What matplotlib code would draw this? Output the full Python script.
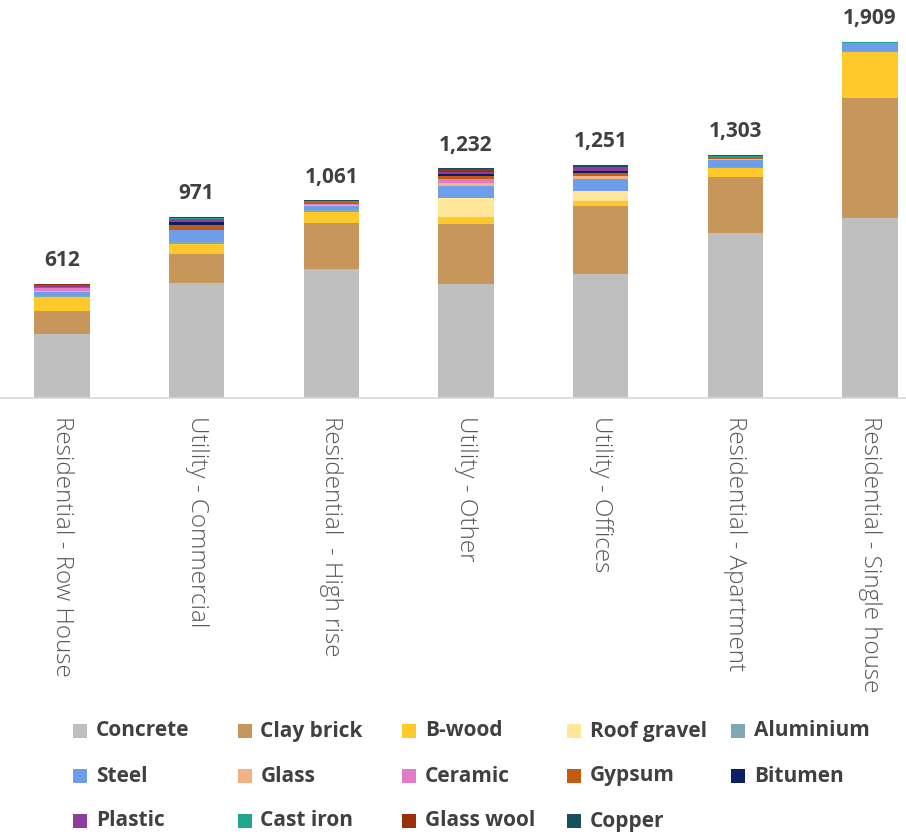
import matplotlib
matplotlib.use("Agg")
import matplotlib.pyplot as plt
from matplotlib.patches import Rectangle

plt.rcParams['font.family'] = ['Open Sans', 'DejaVu Sans']

categories = ["Residential - Row House", "Utility - Commercial", "Residential  - High rise",
              "Utility - Other", "Utility - Offices", "Residential - Apartment",
              "Residential - Single house"]

concrete   = [343, 619, 691, 612, 664, 883, 963]
clay_brick = [124, 155, 247, 322, 366, 304, 643]
b_wood     = [75, 54, 59, 36, 27, 45, 250]
roof_grav  = [0, 0, 0, 104, 54, 0, 0]
aluminium  = [5, 11, 8, 0, 0, 8, 6]
steel      = [20, 63, 25, 63, 63, 36, 41]
glass      = [5, 0, 5, 18, 18, 4, 0]
ceramic    = [15, 0, 5, 21, 0, 0, 0]
gypsum     = [8, 27, 8, 14, 16, 12, 0]
bitumen    = [2, 12, 0, 9, 11, 0, 0]
plastic    = [6, 18, 0, 14, 21, 0, 0]
cast_iron  = [2, 4, 6, 0, 0, 5, 6]
glass_wool = [4, 4, 3, 12, 0, 4, 0]
copper     = [3, 4, 4, 7, 11, 2, 0]

materials = ["Concrete", "Clay brick", "B-wood", "Roof gravel", "Aluminium",
             "Steel", "Glass", "Ceramic", "Gypsum", "Bitumen",
             "Plastic", "Cast iron", "Glass wool", "Copper"]
series = [concrete, clay_brick, b_wood, roof_grav, aluminium, steel, glass,
          ceramic, gypsum, bitumen, plastic, cast_iron, glass_wool, copper]
colors = ["#BFBFBF", "#C6965A", "#FFC92B", "#FFE699", "#7FA8B4",
          "#6D9EEB", "#F4B183", "#E07CC8", "#C55A11", "#0A1F66",
          "#8E3D9E", "#22A58C", "#9C2E0B", "#16505E"]

fig = plt.figure(figsize=(9.06, 8.34), dpi=100)
W, H = 906, 834
ax = fig.add_axes([0, 1 - 398 / H, 1, (398 - 20) / H])

x = list(range(len(categories)))
bottom = [0] * len(categories)
for name, vals, col in zip(materials, series, colors):
    ax.bar(x, vals, 0.41, bottom=bottom, color=col, label=name, linewidth=0)
    bottom = [b + v for b, v in zip(bottom, vals)]

for xi, tot in zip(x, bottom):
    ax.annotate(f"{tot:,}", (xi, tot), xytext=(0, 9), textcoords="offset points",
                ha="center", va="bottom", fontsize=15, fontweight="bold", color="#404040")

ax.set_xlim(-62 / 134.7, 6 + 36 / 134.7)
ax.set_ylim(0, (398 - 20) * 5.36)
for s in ["top", "right", "left"]:
    ax.spines[s].set_visible(False)
ax.spines["bottom"].set_color("#D9D9D9")
ax.spines["bottom"].set_linewidth(1.2)
ax.set_yticks([])
ax.set_xticks(x)
ax.set_xticklabels(categories, rotation=-90, fontsize=17.5, fontweight="light",
                   color="#595959", va="top")
ax.tick_params(axis="x", length=0, pad=13)

# legend laid out in an even grid, row by row
for i, (name, col) in enumerate(zip(materials, colors)):
    r, c = divmod(i, 5)
    px = 73 + c * 164.5
    py = 731 + r * 45
    fig.patches.append(Rectangle((px / W, 1 - (py + 7) / H), 14 / W, 14 / H,
                                 transform=fig.transFigure, color=col, linewidth=0))
    fig.text((px + 23) / W, 1 - py / H, name, ha="left", va="center",
             fontsize=15, fontweight="bold", color="#404040")

fig.savefig("out.png", dpi=100)
